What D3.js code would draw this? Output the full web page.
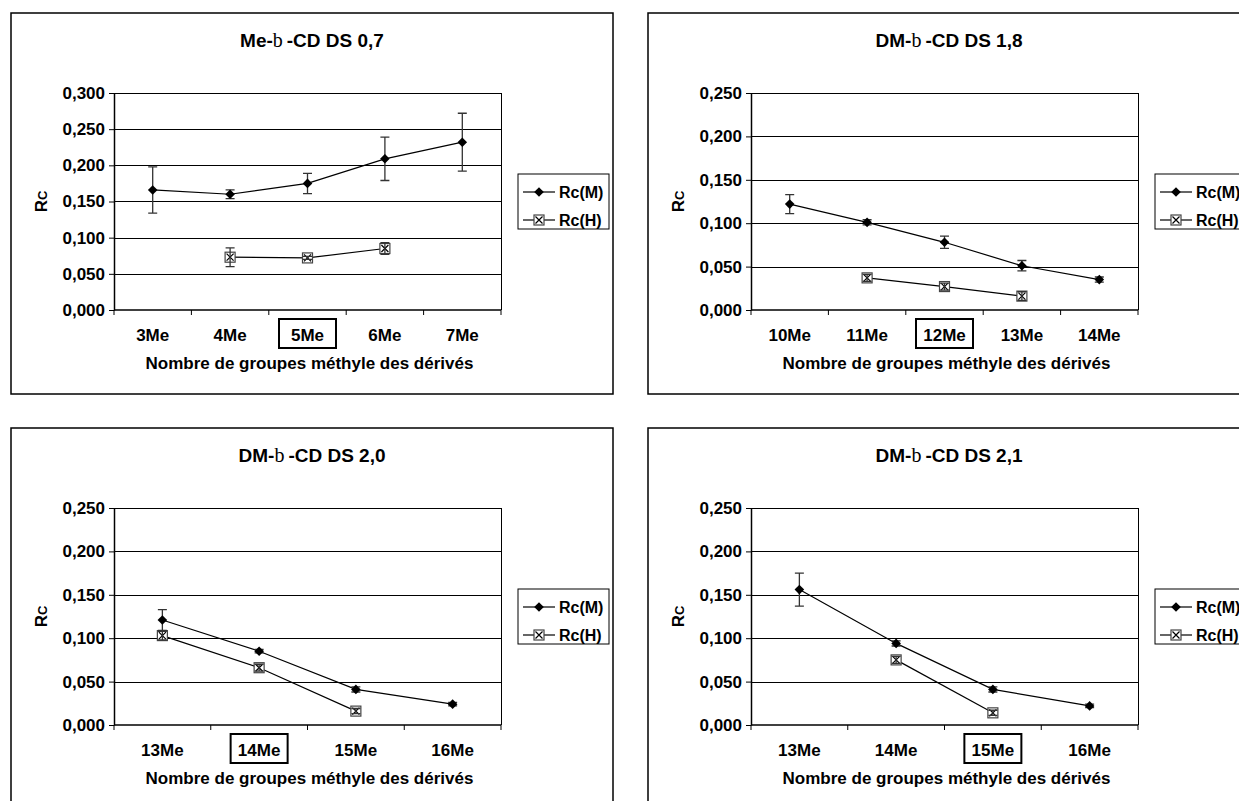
<!DOCTYPE html>
<html><head><meta charset="utf-8">
<script src="https://cdn.jsdelivr.net/npm/d3@7"></script>
<style>
body{margin:0;background:#fff}
svg text{font-family:Arial,"Liberation Sans",sans-serif;font-weight:bold;fill:#000}
</style>
</head><body>
<svg id="c" width="1239" height="801"></svg>
<script>
// ---------- data ----------
const titlePrefixes = ["Me-", "DM-", "DM-", "DM-"];
const titleGreek = "b";
const titleSuffixes = ["-CD DS 0,7", "-CD DS 1,8", "-CD DS 2,0", "-CD DS 2,1"];

const categories1 = ["3Me", "4Me", "5Me", "6Me", "7Me"];
const rcM1 = [0.166, 0.160, 0.175, 0.209, 0.232];
const rcMErr1 = [0.032, 0.006, 0.014, 0.030, 0.040];
const rcH1 = [null, 0.073, 0.072, 0.085, null];
const rcHErr1 = [null, 0.013, 0.002, 0.008, null];

const categories2 = ["10Me", "11Me", "12Me", "13Me", "14Me"];
const rcM2 = [0.122, 0.101, 0.078, 0.051, 0.035];
const rcMErr2 = [0.011, 0.003, 0.007, 0.006, 0.003];
const rcH2 = [null, 0.037, 0.027, 0.016, null];
const rcHErr2 = [null, 0.004, 0.004, 0.005, null];

const categories3 = ["13Me", "14Me", "15Me", "16Me"];
const rcM3 = [0.121, 0.085, 0.041, 0.024];
const rcMErr3 = [0.012, 0.002, 0.003, 0.002];
const rcH3 = [0.103, 0.066, 0.016, null];
const rcHErr3 = [0.005, 0.004, 0.003, null];

const categories4 = ["13Me", "14Me", "15Me", "16Me"];
const rcM4 = [0.156, 0.094, 0.041, 0.022];
const rcMErr4 = [0.019, 0.003, 0.003, 0.002];
const rcH4 = [null, 0.075, 0.014, null];
const rcHErr4 = [null, 0.004, 0.003, null];

// one highlighted (boxed) category per panel
const highlightedPerPanel = ["5Me", "12Me", "14Me", "15Me"];
const yMaxes = [0.30, 0.25, 0.25, 0.25];
const yStep = 0.05;
const seriesNames = ["Rc(M)", "Rc(H)"];
const xAxisTitle = "Nombre de groupes méthyle des dérivés";
const yAxisMain = "R";
const yAxisSub = "C";

// ---------- layout ----------
const svg = d3.select("#c");
const origins = [[11, 13], [648, 13], [11, 428], [648, 428]];
const PW = 602, PH = 381;
const PL = 103, PR = 490, PT = 80, PB = 297;
const fmt = v => d3.format(".3f")(v).replace(".", ",");

const panels = [
  {cats: categories1, m: rcM1, me: rcMErr1, h: rcH1, he: rcHErr1},
  {cats: categories2, m: rcM2, me: rcMErr2, h: rcH2, he: rcHErr2},
  {cats: categories3, m: rcM3, me: rcMErr3, h: rcH3, he: rcHErr3},
  {cats: categories4, m: rcM4, me: rcMErr4, h: rcH4, he: rcHErr4}
];

const diamond = "M0,-4.8L4.8,0L0,4.8L-4.8,0Z";

function drawHMarker(g, cx, cy) {
  const s = 5;
  g.append("rect").attr("x", cx - s).attr("y", cy - s).attr("width", 2 * s).attr("height", 2 * s)
    .attr("fill", "#fff").attr("stroke", "#444").attr("stroke-width", 1.2);
  g.append("path").attr("d", `M${cx - s + 1.5},${cy - s + 1.5}L${cx + s - 1.5},${cy + s - 1.5}M${cx + s - 1.5},${cy - s + 1.5}L${cx - s + 1.5},${cy + s - 1.5}`)
    .attr("stroke", "#000").attr("stroke-width", 1.2).attr("fill", "none");
}
function drawMMarker(g, cx, cy) {
  g.append("path").attr("d", diamond).attr("transform", `translate(${cx},${cy})`).attr("fill", "#000");
}

panels.forEach((p, i) => {
  const g = svg.append("g").attr("transform", `translate(${origins[i][0]},${origins[i][1]})`);
  g.append("rect").attr("x", 0).attr("y", 0).attr("width", PW).attr("height", PH)
    .attr("fill", "#fff").attr("stroke", "#000").attr("stroke-width", 1.5);

  const x = d3.scaleBand().domain(p.cats).range([PL, PR]).padding(0);
  const y = d3.scaleLinear().domain([0, yMaxes[i]]).range([PB, PT]);
  const ticks = d3.range(0, yMaxes[i] + 1e-9, yStep);
  const cx = c => x(c) + x.bandwidth() / 2;

  // title
  const t = g.append("text").attr("x", PW / 2).attr("y", 34).attr("text-anchor", "middle").style("font-size", "19px");
  t.append("tspan").text(titlePrefixes[i]);
  t.append("tspan").text(titleGreek).style("font-family", "'Liberation Serif','Times New Roman',serif").style("font-weight", "normal").style("font-size", "20px");
  t.append("tspan").attr("dx", 4).text(titleSuffixes[i]);

  // gridlines
  g.append("g").selectAll("line").data(ticks.filter(v => v > 0)).join("line")
    .attr("x1", PL).attr("x2", PR).attr("y1", d => Math.round(y(d)) + 0.5).attr("y2", d => Math.round(y(d)) + 0.5)
    .attr("stroke", "#000").attr("stroke-width", 1);
  // right frame
  g.append("line").attr("x1", PR + 0.5).attr("x2", PR + 0.5).attr("y1", PT).attr("y2", PB).attr("stroke", "#000");

  // y axis
  const ya = g.append("g").attr("transform", `translate(${PL},0)`)
    .call(d3.axisLeft(y).tickValues(ticks).tickSize(5).tickSizeOuter(0).tickPadding(4).tickFormat(fmt));
  ya.selectAll("text").style("font-size", "17px");
  ya.select(".domain").attr("stroke-width", 1.5);

  // x axis baseline and boundary ticks
  g.append("line").attr("x1", PL).attr("x2", PR).attr("y1", PB).attr("y2", PB).attr("stroke", "#000").attr("stroke-width", 1.5);
  const bounds = p.cats.map(c => x(c)).concat([x.range()[1]]);
  g.append("g").selectAll("line").data(bounds).join("line")
    .attr("x1", d => d).attr("x2", d => d).attr("y1", PB).attr("y2", PB + 5).attr("stroke", "#000");
  g.append("g").selectAll("text").data(p.cats).join("text")
    .attr("x", d => cx(d)).attr("y", 328).attr("text-anchor", "middle").style("font-size", "17px").text(d => d);
  const hc = highlightedPerPanel[i];
  g.append("rect").attr("x", cx(hc) - 28.5).attr("y", 306).attr("width", 57).attr("height", 29)
    .attr("fill", "none").attr("stroke", "#000").attr("stroke-width", 2);
  g.append("text").attr("x", (PL + PR) / 2 + 2).attr("y", 356).attr("text-anchor", "middle").style("font-size", "17px").text(xAxisTitle);

  // y axis title
  const yt = g.append("text").attr("transform", `translate(36,${(PT + PB) / 2}) rotate(-90)`).attr("text-anchor", "middle").style("font-size", "17px");
  yt.append("tspan").text(yAxisMain);
  yt.append("tspan").text(yAxisSub).style("font-size", "13px");

  // series lines
  const line = d3.line().defined(d => d.v != null).x(d => cx(d.c)).y(d => y(d.v));
  const mData = p.cats.map((c, k) => ({c, v: p.m[k], e: p.me[k]}));
  const hData = p.cats.map((c, k) => ({c, v: p.h[k], e: p.he[k]}));
  g.append("path").attr("d", line(mData)).attr("fill", "none").attr("stroke", "#000").attr("stroke-width", 1.2);
  g.append("path").attr("d", line(hData)).attr("fill", "none").attr("stroke", "#000").attr("stroke-width", 1.2);

  // markers H
  hData.filter(d => d.v != null).forEach(d => drawHMarker(g, cx(d.c), y(d.v)));
  // error bars
  const errs = mData.concat(hData).filter(d => d.v != null && d.e != null);
  errs.forEach(d => {
    const X = cx(d.c), y1 = y(d.v + d.e), y2 = y(d.v - d.e);
    g.append("path").attr("d", `M${X},${y1}V${y2}M${X - 4.5},${y1}H${X + 4.5}M${X - 4.5},${y2}H${X + 4.5}`)
      .attr("stroke", "#333").attr("stroke-width", 1.3).attr("fill", "none");
  });
  // markers M
  mData.filter(d => d.v != null).forEach(d => drawMMarker(g, cx(d.c), y(d.v)));

  // legend
  const lg = g.append("g");
  lg.append("rect").attr("x", 507).attr("y", 161).attr("width", 91).attr("height", 55)
    .attr("fill", "#fff").attr("stroke", "#000").attr("stroke-width", 1);
  [179, 207].forEach((ly, k) => {
    lg.append("line").attr("x1", 512).attr("x2", 544).attr("y1", ly).attr("y2", ly).attr("stroke", "#000").attr("stroke-width", 1.2);
    if (k === 0) drawMMarker(lg, 528, ly); else drawHMarker(lg, 528, ly);
    lg.append("text").attr("x", 548).attr("y", ly + 6).style("font-size", "16px").text(seriesNames[k]);
  });
});
</script>
</body></html>
